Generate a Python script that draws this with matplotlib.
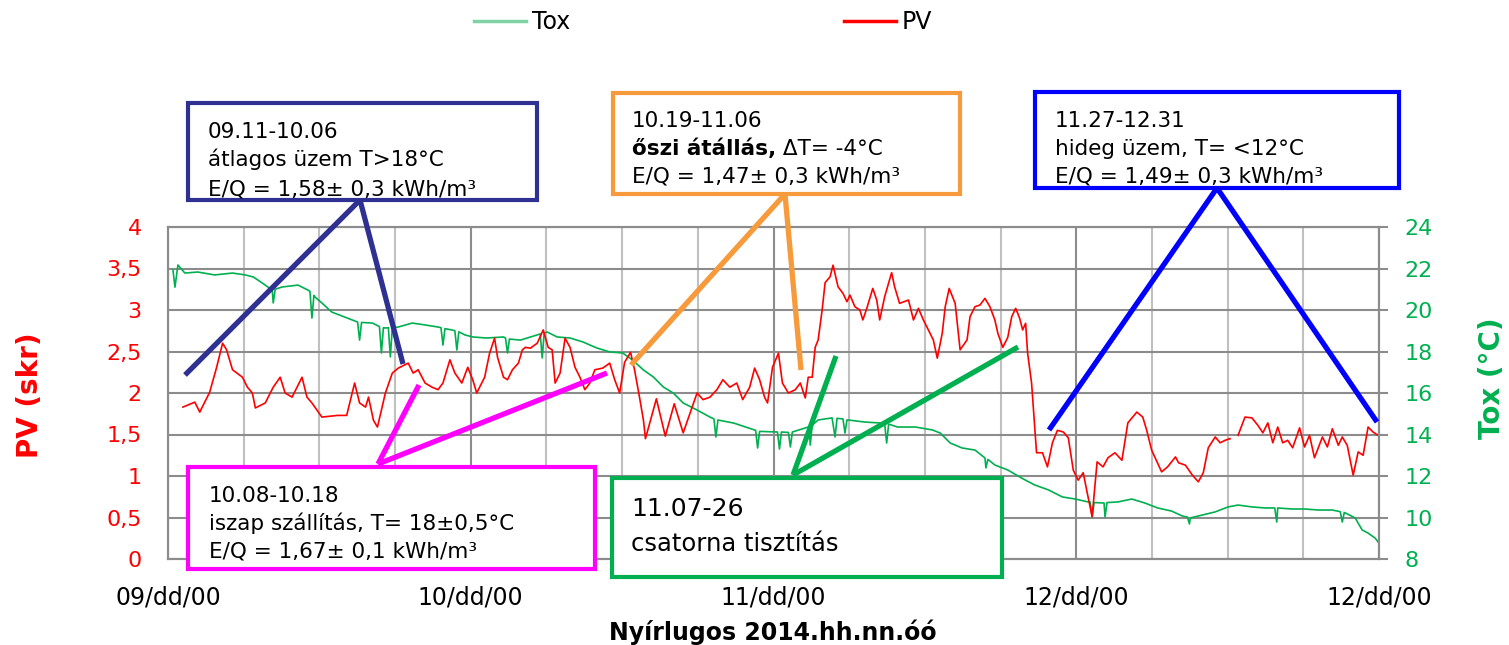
import numpy as np
import matplotlib
matplotlib.use('Agg')
import matplotlib.pyplot as plt
from matplotlib.lines import Line2D
from matplotlib.patches import Rectangle

# napok 09.01-tol szamolva
pv_day = [1.5, 2.7, 3.2, 4.2, 4.9, 5.5, 5.9, 6.5, 7.5, 8.0, 8.5, 8.8, 9.8, 10.6, 11.3, 11.8,
          12.5, 13.5, 14.0, 14.5, 15.5, 17.1, 18.0, 18.8, 19.3, 19.9, 20.2, 20.7, 21.1, 21.9,
          22.6, 23.2, 24.2, 24.7, 25.2, 25.9, 26.6, 27.2, 27.7, 28.4, 28.9, 29.6, 30.2, 30.7,
          31.1, 31.9, 32.4, 32.9, 33.2, 33.8, 34.2, 34.7, 35.3, 35.7, 36.0, 36.5, 37.2, 37.8,
          38.3, 38.7, 39.0, 39.5, 40.0, 40.5, 41.0, 41.5, 42.0, 42.5, 43.0, 43.8, 44.5, 45.0,
          45.5, 46.0, 46.6, 47.0, 47.5, 47.9, 48.1, 49.2, 50.1, 51.0, 51.9, 52.8, 53.3, 53.9,
          54.6, 55.3, 55.9, 56.6, 57.3, 57.9, 58.6, 59.1, 59.6, 60.1, 60.4, 60.9, 61.5, 61.9,
          62.5, 63.2, 63.7, 64.2, 64.5, 64.9, 65.2, 65.5, 65.9, 66.2, 66.7, 67.0, 67.5, 68.0,
          68.4, 68.7, 69.2, 69.7, 70.0, 70.4, 71.0, 71.4, 71.7, 72.2, 72.9, 73.2, 73.7, 74.6,
          75.1, 75.6, 76.1, 76.6, 77.1, 77.5, 78.0, 78.3, 78.7, 79.3, 79.8, 80.5, 80.8, 81.3,
          81.8, 82.3, 82.8, 83.3, 83.6, 84.1, 84.6, 85.0, 85.4, 85.8, 86.1, 86.4, 86.6, 87.0,
          87.5, 88.1, 88.6, 89.1, 89.6, 90.2, 90.7, 91.2, 91.7, 92.2, 92.6, 93.1, 93.6, 94.2,
          94.7, 95.4, 96.1, 96.7, 97.6, 98.2, 98.6, 99.1, 100.1, 100.7, 101.5, 101.8, 102.5,
          103.2, 103.8, 104.3, 104.8, 105.5, 106.0, 106.5, 107.0, 107.4, 107.8, 108.5, 109.2,
          109.8, 110.3, 110.8, 111.3, 111.8, 112.3, 112.8, 113.3, 114.0, 114.5, 115.0, 115.5,
          116.3, 116.8, 117.3, 117.9, 118.3, 118.8, 119.4, 119.9, 120.4, 120.9, 121.4, 121.9]
pv_val = [1.83, 1.89, 1.77, 2.01, 2.31, 2.60, 2.52, 2.28, 2.19, 2.07, 2.00, 1.82, 1.88, 2.07, 2.19, 2.00,
          1.95, 2.19, 1.95, 1.88, 1.71, 1.73, 1.73, 2.12, 1.88, 1.83, 1.95, 1.67, 1.59, 2.00,
          2.24, 2.30, 2.36, 2.24, 2.28, 2.12, 2.07, 2.04, 2.12, 2.40, 2.24, 2.12, 2.31, 2.16,
          2.00, 2.19, 2.48, 2.66, 2.43, 2.19, 2.16, 2.28, 2.36, 2.52, 2.55, 2.54, 2.60, 2.76,
          2.55, 2.52, 2.12, 2.24, 2.66, 2.55, 2.31, 2.19, 2.04, 2.12, 2.28, 2.30, 2.36, 2.16,
          2.00, 2.37, 2.49, 2.28, 1.95, 1.67, 1.45, 1.93, 1.48, 1.87, 1.52, 1.83, 2.00, 1.92,
          1.95, 2.04, 2.16, 2.07, 2.12, 1.92, 2.07, 2.30, 2.16, 1.95, 1.88, 2.31, 2.48, 2.12,
          2.00, 2.04, 2.12, 1.94, 2.19, 2.19, 2.55, 2.64, 3.00, 3.33, 3.40, 3.54, 3.28, 3.20,
          3.10, 3.18, 3.04, 3.00, 2.88, 3.02, 3.26, 3.12, 2.88, 3.16, 3.45, 3.28, 3.08, 3.12,
          2.88, 3.02, 2.88, 2.76, 2.64, 2.42, 2.72, 3.04, 3.26, 3.08, 2.52, 2.64, 2.92, 3.04,
          3.06, 3.14, 3.04, 2.88, 2.72, 2.55, 2.67, 2.92, 3.02, 2.90, 2.76, 2.84, 2.48, 2.12,
          1.28, 1.28, 1.11, 1.40, 1.55, 1.53, 1.46, 1.07, 0.95, 1.04, 0.80, 0.51, 1.17, 1.11,
          1.22, 1.28, 1.19, 1.64, 1.77, 1.71, 1.55, 1.31, 1.05, 1.11, 1.23, 1.16, 1.13,
          1.01, 0.93, 1.04, 1.34, 1.47, 1.40, 1.43, 1.45, np.nan, 1.49, 1.71, 1.70,
          1.61, 1.52, 1.64, 1.40, 1.59, 1.40, 1.43, 1.34, 1.58, 1.35, 1.49, 1.22,
          1.47, 1.35, 1.57, 1.37, 1.47, 1.37, 1.01, 1.29, 1.25, 1.59, 1.53, 1.49]

tox_day = [0.5, 1.0, 1.7, 3.0, 4.7, 6.5, 7.8, 8.6, 9.5, 10.5, 11.5, 13.1, 14.1, 14.8, 15.5, 16.5,
           17.8, 19.1, 20.6, 21.9, 23.2, 24.6, 25.9, 27.2, 28.6, 29.9, 30.7, 32.1, 33.8, 35.5,
           37.2, 38.2, 39.2, 40.5, 41.8, 43.2, 44.5, 45.8, 46.8, 47.9, 48.9, 49.9, 50.9, 51.9,
           53.3, 54.6, 57.0, 59.2, 61.2, 62.9, 64.5, 65.5, 66.9, 68.5, 70.2, 71.9, 73.5, 75.3,
           77.0, 77.8, 78.8, 80.0, 81.3, 82.3, 83.3, 84.6, 86.0, 87.3, 88.7, 90.1, 91.4, 92.7,
           94.2, 95.7, 97.1, 98.4, 99.7, 101.1, 102.2, 103.0, 104.2, 105.5, 106.8, 107.8, 109.2,
           110.5, 111.8, 113.2, 114.5, 115.9, 117.3, 118.6, 119.6, 120.3, 120.9, 121.6, 122.0]
tox_val = [21.93, 22.17, 21.78, 21.83, 21.69, 21.78, 21.69, 21.59, 21.30, 20.96, 21.11, 21.20, 20.96, 20.63, 20.34, 19.90,
           19.66, 19.42, 19.37, 19.13, 19.18, 19.37, 19.28, 19.18, 19.04, 18.80, 18.70, 18.65, 18.70, 18.55,
           18.80, 18.94, 18.70, 18.65, 18.46, 18.17, 17.98, 17.93, 17.59, 17.11, 16.77, 16.29, 16.00, 15.52,
           15.18, 14.84, 14.55, 14.20, 14.12, 14.12, 14.36, 14.70, 14.80, 14.70, 14.60, 14.55, 14.36, 14.36,
           14.22, 14.07, 13.59, 13.35, 13.25, 12.87, 12.53, 12.29, 11.90, 11.57, 11.33, 10.99, 10.89, 10.75,
           10.70, 10.75, 10.89, 10.70, 10.46, 10.31, 10.07, 9.98, 10.12, 10.27, 10.51, 10.60, 10.51,
           10.46, 10.46, 10.41, 10.41, 10.36, 10.36, 10.22, 9.98, 9.40, 9.25, 9.01, 8.77]
# napi leesesek a Tox gorben (a melyponttal es a ket szelevel)
tox_dip_day = [0.7, 10.6, 14.5, 19.3, 21.5, 22.4, 27.7, 29.1, 34.2, 37.7, 55.2, 59.4, 61.6, 62.7,
               64.7, 67.2, 68.2, 72.4, 82.4, 93.1, 94.4, 102.9, 111.7, 118.3]
tox_dip_val = [21.10, 20.34, 19.61, 18.55, 17.93, 17.74, 18.31, 18.07, 17.93, 17.69, 13.88, 13.35, 13.30, 13.40,
               13.49, 13.88, 14.07, 13.59, 12.39, 10.02, 10.02, 9.69, 9.78, 9.78]
tox_edge_day = [10.8, 14.3, 14.7, 19.5, 21.3, 21.7, 22.2, 22.6, 27.5, 27.9, 28.9, 29.3, 34.0, 34.4,
                37.5, 37.9, 55.0, 55.4, 59.6, 61.4, 61.8, 62.5, 64.6, 64.9, 67.4, 68.0, 68.4,
                72.2, 72.6, 82.6, 92.9, 93.3, 94.3, 94.6, 102.7, 111.5, 118.1, 118.5]
tox_edge_val = [21.00, 20.90, 20.70, 19.40, 19.20, 19.15, 19.15, 19.15, 19.15, 19.10, 19.00, 18.95, 18.65, 18.60,
                18.85, 18.90, 14.75, 14.70, 14.15, 14.12, 14.12, 14.10, 14.40, 14.45, 14.78, 14.75, 14.70,
                14.50, 14.50, 12.80, 10.75, 10.72, 10.70, 10.72, 10.02, 10.46, 10.28, 10.24]

pv_ticks = [0, 0.5, 1, 1.5, 2, 2.5, 3, 3.5, 4]
pv_tick_labels = ['0', '0,5', '1', '1,5', '2', '2,5', '3', '3,5', '4']
tox_ticks = [8, 10, 12, 14, 16, 18, 20, 22, 24]
month_labels = ['09/dd/00', '10/dd/00', '11/dd/00', '12/dd/00', '12/dd/00']

RED = '#FF0000'
GREEN = '#00B050'
GRID_DARK = '#8C8C8C'
GRID_LIGHT = '#C0C0C0'

W, H = 1509, 645


def P(x, y):
    # kep pixel -> figure koordinata
    return (x / W, 1 - y / H)


fig = plt.figure(figsize=(W / 100, H / 100), dpi=100)
ax = fig.add_axes([168 / W, 1 - 559 / H, (1379 - 168) / W, (559 - 227) / H])
ax2 = ax.twinx()
ax.set_zorder(2)
ax2.set_zorder(1)
ax.patch.set_visible(False)
ax2.patch.set_visible(True)
ax2.patch.set_facecolor('white')

# Tox a jobb tengelyen
td = np.array(tox_day + tox_dip_day + tox_edge_day)
tv = np.array(tox_val + tox_dip_val + tox_edge_val)
order = np.argsort(td)
ax2.plot(td[order], tv[order], color=GREEN, lw=1.2)
ax.plot(pv_day, pv_val, color=RED, lw=1.2)

ax.set_xlim(0, 122)
ax.set_ylim(0, 4)
ax2.set_ylim(8, 24)
ax.set_xticks(np.linspace(0, 122, 5), month_labels)
ax.set_xticks(np.linspace(0, 122, 17), minor=True)
ax.set_yticks(pv_ticks, pv_tick_labels)
ax2.set_yticks(tox_ticks)

ax.tick_params(axis='x', which='both', length=0, labelsize=17, pad=19)
ax.tick_params(axis='y', length=0, labelsize=16, labelcolor=RED, pad=19)
ax2.tick_params(axis='y', length=6.5, width=1.5, color=GRID_DARK, labelsize=16,
                labelcolor=GREEN, pad=12)

# racs a hatso tengelyen, hogy a gorbek alatt legyen
ax2.xaxis.set_visible(True)
ax2.tick_params(axis='x', which='both', bottom=False, labelbottom=False)
ax2.grid(axis='x', which='minor', color=GRID_LIGHT, lw=1.5)
ax2.grid(axis='x', which='major', color=GRID_DARK, lw=1.5)
ax2.grid(axis='y', which='major', color=GRID_DARK, lw=1.5)
ax.grid(False)
for a in (ax, ax2):
    for s in a.spines.values():
        s.set_color(GRID_DARK)
        s.set_linewidth(1.5)

fig.text(*P(30, 395), 'PV (skr)', rotation=90, color=RED, fontsize=20,
         fontweight='bold', ha='center', va='center')
fig.text(*P(1492, 378), 'Tox (°C)', rotation=90, color=GREEN, fontsize=20,
         fontweight='bold', ha='center', va='center')
fig.text(*P(773, 632), 'Nyírlugos 2014.hh.nn.óó', fontsize=17,
         fontweight='bold', ha='center', va='center')

fig.legend(handles=[Line2D([], [], color='#7FD3A5', lw=2.5),
                    Line2D([], [], color=RED, lw=2.5)],
           labels=['Tox', 'PV'], ncol=2, loc='center', bbox_to_anchor=P(703, 22),
           frameon=False, fontsize=17, handlelength=2.2, handletextpad=0.25,
           columnspacing=11.6)


def callout(box, apex, ends, color):
    x0, y0, x1, y1 = box
    for e in ends:
        fig.add_artist(Line2D([apex[0] / W, e[0] / W], [1 - apex[1] / H, 1 - e[1] / H],
                              color=color, lw=3.8, solid_capstyle='butt',
                              solid_joinstyle='miter', zorder=5))
    fig.add_artist(Rectangle(P(x0, y1), (x1 - x0) / W, (y1 - y0) / H, facecolor='white',
                             edgecolor=color, lw=3, zorder=4))


def lines(x, ys, texts, size=15.5):
    for y, s in zip(ys, texts):
        fig.text(*P(x, y), s, fontsize=size, va='baseline', ha='left', zorder=6)


callout((188, 103, 537, 200), (360, 200), [(185, 375), (403, 364)], '#2E3192')
lines(208, [138, 166, 195], ['09.11-10.06', 'átlagos üzem T>18°C', 'E/Q = 1,58± 0,3 kWh/m³'])

callout((613, 93, 960, 194), (785, 194), [(631, 365), (801, 370)], '#F79A3B')
lines(632, [127, 183], ['10.19-11.06', 'E/Q = 1,47± 0,3 kWh/m³'])
t_bold = fig.text(*P(632, 155), 'őszi átállás,', fontsize=15.5, fontweight='bold',
                  va='baseline', ha='left', zorder=6)
bb = t_bold.get_window_extent(renderer=fig.canvas.get_renderer())
fig.text(bb.x1 / fig.bbox.width, P(0, 155)[1], ' ΔT= -4°C', fontsize=15.5,
         va='baseline', ha='left', zorder=6)

callout((1035, 92, 1399, 188), (1217, 188), [(1049, 430), (1377, 422)], '#0000FF')
lines(1055, [127, 155, 183], ['11.27-12.31', 'hideg üzem, T= <12°C', 'E/Q = 1,49± 0,3 kWh/m³'])

callout((188, 467, 595, 569), (378, 464), [(419, 385), (607, 373)], '#FF00FF')
lines(209, [502, 530, 557], ['10.08-10.18', 'iszap szállítás, T= 18±0,5°C', 'E/Q = 1,67± 0,1 kWh/m³'])

callout((612, 478, 1002, 577), (793, 475), [(836, 356), (1018, 347)], GREEN)
lines(631, [516], ['11.07-26'], size=18)
lines(631, [551], ['csatorna tisztítás'], size=17.5)

fig.savefig('out.png', dpi=100)
